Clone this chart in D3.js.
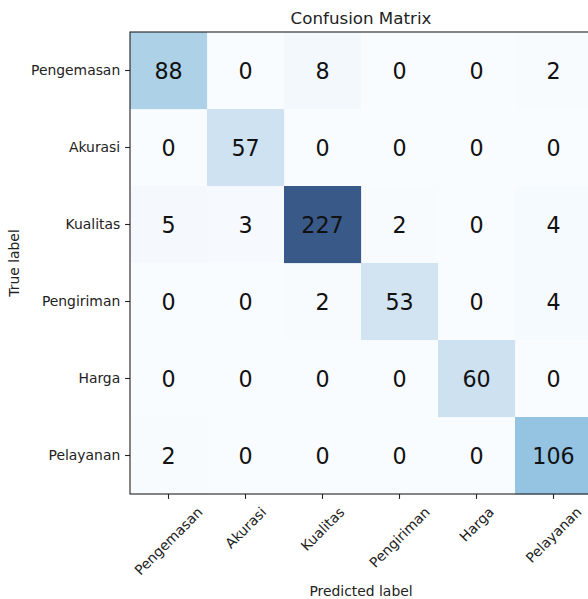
<!DOCTYPE html>
<html>
<head>
<meta charset="utf-8">
<script src="https://cdn.jsdelivr.net/npm/d3@7"></script>
<style>
  html, body { margin: 0; padding: 0; background: #fff; overflow: hidden; }
  svg { display: block; font-family: "DejaVu Sans", sans-serif; }
</style>
</head>
<body>
<svg id="chart" width="588" height="599"></svg>
<script>
// Class names (used for both the true and the predicted axis)
const classes = ["Pengemasan", "Akurasi", "Kualitas", "Pengiriman", "Harga", "Pelayanan"];

// Counts per true class (rows) and predicted class (columns)
const rowPengemasan = [88, 0, 8, 0, 0, 2];
const rowAkurasi    = [0, 57, 0, 0, 0, 0];
const rowKualitas   = [5, 3, 227, 2, 0, 4];
const rowPengiriman = [0, 0, 2, 53, 0, 4];
const rowHarga      = [0, 0, 0, 0, 60, 0];
const rowPelayanan  = [2, 0, 0, 0, 0, 106];

const matrix = [rowPengemasan, rowAkurasi, rowKualitas, rowPengiriman, rowHarga, rowPelayanan];

const titleText = "Confusion Matrix";
const xLabelText = "Predicted label";
const yLabelText = "True label";

const svg = d3.select("#chart");

const plotLeft = 130, plotTop = 32, side = 462;

const x = d3.scaleBand().domain(classes).range([plotLeft, plotLeft + side]).padding(0);
const y = d3.scaleBand().domain(classes).range([plotTop, plotTop + side]).padding(0);

const maxVal = d3.max(matrix.flat());
const color = d3.scaleSequential(d3.interpolateBlues).domain([0, maxVal]);

// Cells
const cells = [];
matrix.forEach((row, i) => row.forEach((v, j) => cells.push({ t: classes[i], p: classes[j], v })));

// White backdrop under the semi-transparent colour map
svg.append("rect")
  .attr("x", plotLeft).attr("y", plotTop)
  .attr("width", side).attr("height", side)
  .attr("fill", "#fff");

svg.append("g").selectAll("rect")
  .data(cells)
  .join("rect")
  .attr("x", d => x(d.p))
  .attr("y", d => y(d.t))
  .attr("width", x.bandwidth() + 0.5)
  .attr("height", y.bandwidth() + 0.5)
  .attr("fill", d => color(d.v))
  .attr("fill-opacity", 0.8);

// Count labels
svg.append("g").selectAll("text")
  .data(cells)
  .join("text")
  .attr("x", d => x(d.p) + x.bandwidth() / 2)
  .attr("y", d => y(d.t) + y.bandwidth() / 2)
  .attr("text-anchor", "middle")
  .attr("dominant-baseline", "central")
  .attr("font-size", 22.2)
  .attr("fill", "#111")
  .text(d => d.v);

// Axes
const tickLen = 4.9, tickPad = 4.9, tickFont = 13.9;

const yAxis = svg.append("g")
  .attr("transform", `translate(${plotLeft},0)`)
  .call(d3.axisLeft(y).tickSize(tickLen).tickPadding(tickPad).tickSizeOuter(0));
yAxis.select(".domain").remove();
yAxis.selectAll("line").attr("stroke", "#222").attr("stroke-width", 1.1);
yAxis.selectAll("text")
  .attr("font-size", tickFont)
  .attr("font-family", "DejaVu Sans, sans-serif")
  .attr("fill", "#222");

const xAxis = svg.append("g")
  .attr("transform", `translate(0,${plotTop + side})`)
  .call(d3.axisBottom(x).tickSize(tickLen).tickPadding(tickPad).tickSizeOuter(0));
xAxis.select(".domain").remove();
xAxis.selectAll("line").attr("stroke", "#222").attr("stroke-width", 1.1);
xAxis.selectAll("text")
  .attr("font-size", tickFont)
  .attr("font-family", "DejaVu Sans, sans-serif")
  .attr("fill", "#222")
  .attr("dy", null)
  .attr("y", null)
  .attr("text-anchor", "middle")
  .attr("dominant-baseline", "central")
  .each(function () {
    // Rotated 45°, bounding box centred on the tick and hanging below it
    const w = this.getComputedTextLength();
    const h = tickFont * 1.16;
    const boxH = (w + h) * Math.SQRT1_2;
    d3.select(this).attr("transform", `translate(0,${tickLen + tickPad + boxH / 2}) rotate(-45)`);
  });

// Frame
svg.append("rect")
  .attr("x", plotLeft).attr("y", plotTop)
  .attr("width", side).attr("height", side)
  .attr("fill", "none")
  .attr("stroke", "#222")
  .attr("stroke-width", 1.1);

// Title and axis labels
svg.append("text")
  .attr("x", plotLeft + side / 2).attr("y", 24)
  .attr("text-anchor", "middle")
  .attr("font-size", 16.7)
  .attr("fill", "#222")
  .text(titleText);

svg.append("text")
  .attr("x", plotLeft + side / 2).attr("y", 596)
  .attr("text-anchor", "middle")
  .attr("font-size", 13.9)
  .attr("fill", "#222")
  .text(xLabelText);

svg.append("text")
  .attr("transform", `translate(19,${plotTop + side / 2}) rotate(-90)`)
  .attr("text-anchor", "middle")
  .attr("font-size", 13.9)
  .attr("fill", "#222")
  .text(yLabelText);
</script>
</body>
</html>
